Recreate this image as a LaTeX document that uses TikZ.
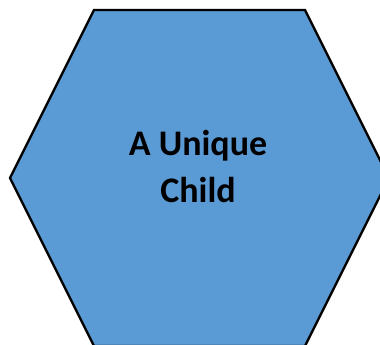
\documentclass[tikz,border=0pt]{standalone}
\usepackage{fontspec}
\setmainfont{Carlito}
\definecolor{hexblue}{HTML}{5B9BD5}
\tikzset{hexshape/.style={draw=black, line width=2.4pt, fill=hexblue, line join=miter},
  label/.style={font=\bfseries\fontsize{36}{47}\selectfont, align=center, text=black}}
\begin{document}
\begin{tikzpicture}[x=1pt,y=1pt]
\useasboundingbox (0,0) rectangle (380,345);
\begin{scope}
\clip (0,0) rectangle (380,345);
\draw[hexshape] (94,335) -- (305,335) -- (389,167) -- (305,-1) -- (94,-1) -- (10,167) -- cycle;
\end{scope}
\node[label] (t) at (198,178) {A Unique\\Child};
\end{tikzpicture}
\end{document}
